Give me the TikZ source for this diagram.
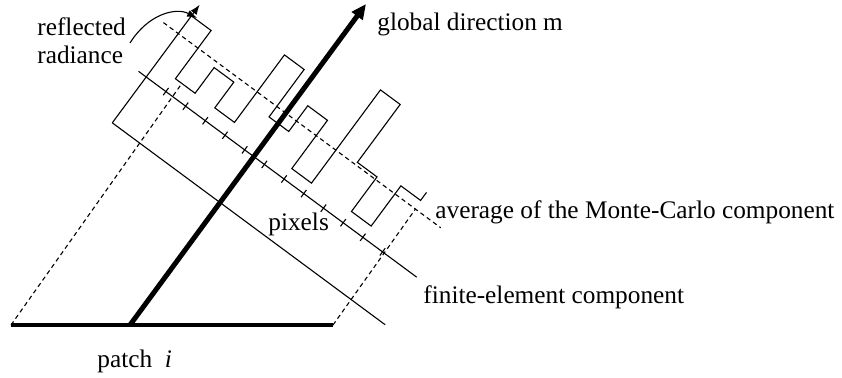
\documentclass[tikz,border=0pt]{standalone}
\usepackage{fontspec}
\setmainfont{Liberation Serif}
\usetikzlibrary{arrows.meta}
\tikzset{
  thinline/.style={line width=0.55pt},
  dashline/.style={line width=0.55pt, dash pattern=on 2.2pt off 1.7pt},
  lbl/.style={inner sep=0pt, anchor=base west, font=\fontsize{12.65pt}{15pt}\selectfont},
  tickmark/.style={line width=0.55pt},
}
\begin{document}
\begin{tikzpicture}[x=0.5pt,y=0.5pt]
\useasboundingbox (0,0) rectangle (842,377);
% patch
\coordinate (pl) at (11,52);
\coordinate (pr) at (333,52);
\coordinate (mb) at (130,52);
\coordinate (mt) at (366,373);
\draw[line width=2pt] (pl) -- (pr);
% rotated frame: x = along pixel lines, y = along global direction
\begin{scope}[shift={(130,52)}, rotate=-36.5]
  % finite-element line
  \coordinate (fea) at (-134.5,152);
  \coordinate (feb) at (205,152);
  \draw[thinline] (fea) -- (feb);
  % pixel line
  \coordinate (pxa) at (-144,209);
  \coordinate (pxb) at (202,209);
  \draw[thinline] (pxa) -- (pxb);
  % ticks
  \foreach \k in {1,...,12} {
    \pgfmathsetmacro{\tt}{-134.5+24.5*\k}
    \draw[tickmark] (\tt,204.5) -- (\tt,213.5);
  }
  % average dashed line
  \coordinate (ava) at (-153,263);
  \coordinate (avb) at (192,263);
  \draw[dashline] (ava) -- (avb);
  % radiance arrow along left edge
  \coordinate (ra) at (-134.5,152);
  \coordinate (rb) at (-134.5,299);
  \draw[thinline, -{Latex[length=5pt,width=3.6pt]}] (ra) -- (rb);
  % staircase
  \draw[thinline] (-134.5,285) -- (-110,285) -- (-110,225) -- (-85.5,225)
    -- (-85.5,257) -- (-61,257) -- (-61,225) -- (-36.5,225)
    -- (-36.5,309) -- (-12,309) -- (-12,250) -- (12.5,250)
    -- (12.5,282) -- (37,282) -- (37,222) -- (61.5,222)
    -- (61.5,338) -- (86,338) -- (86,266) -- (110.5,266)
    -- (110.5,223) -- (135,223) -- (135,273) -- (159.5,273)
    -- (159.5,283);
  \coordinate (dl) at (-102,225);
  \coordinate (dr) at (160.5,263);
\end{scope}
% projection lines
\draw[dashline] (pl) -- (dl);
\draw[dashline] (pr) -- (dr);
% global direction
\draw[line width=2.5pt, -{Triangle[length=7.5pt,width=6.5pt]}] (mb) -- (mt);
% curved arrow
\coordinate (ca) at (130,334);
\coordinate (cb) at (197,359);
\draw[thinline, -{Latex[length=5pt,width=3.6pt]}] (ca) .. controls (148,363) and (176,370) .. (cb);
% labels
\node[lbl] (t1) at (37,342) {reflected};
\node[lbl] (t2) at (37,314) {radiance};
\node[lbl] (t3) at (377,347) {global direction m};
\node[lbl] (t4) at (435,159) {average of the Monte-Carlo component};
\node[lbl] (t5) at (423,74) {finite-element component};
\node[lbl] (t6) at (268,147) {pixels};
\node[lbl] (t7) at (97,10) {patch\ \ \textit{i}};
\end{tikzpicture}
\end{document}
